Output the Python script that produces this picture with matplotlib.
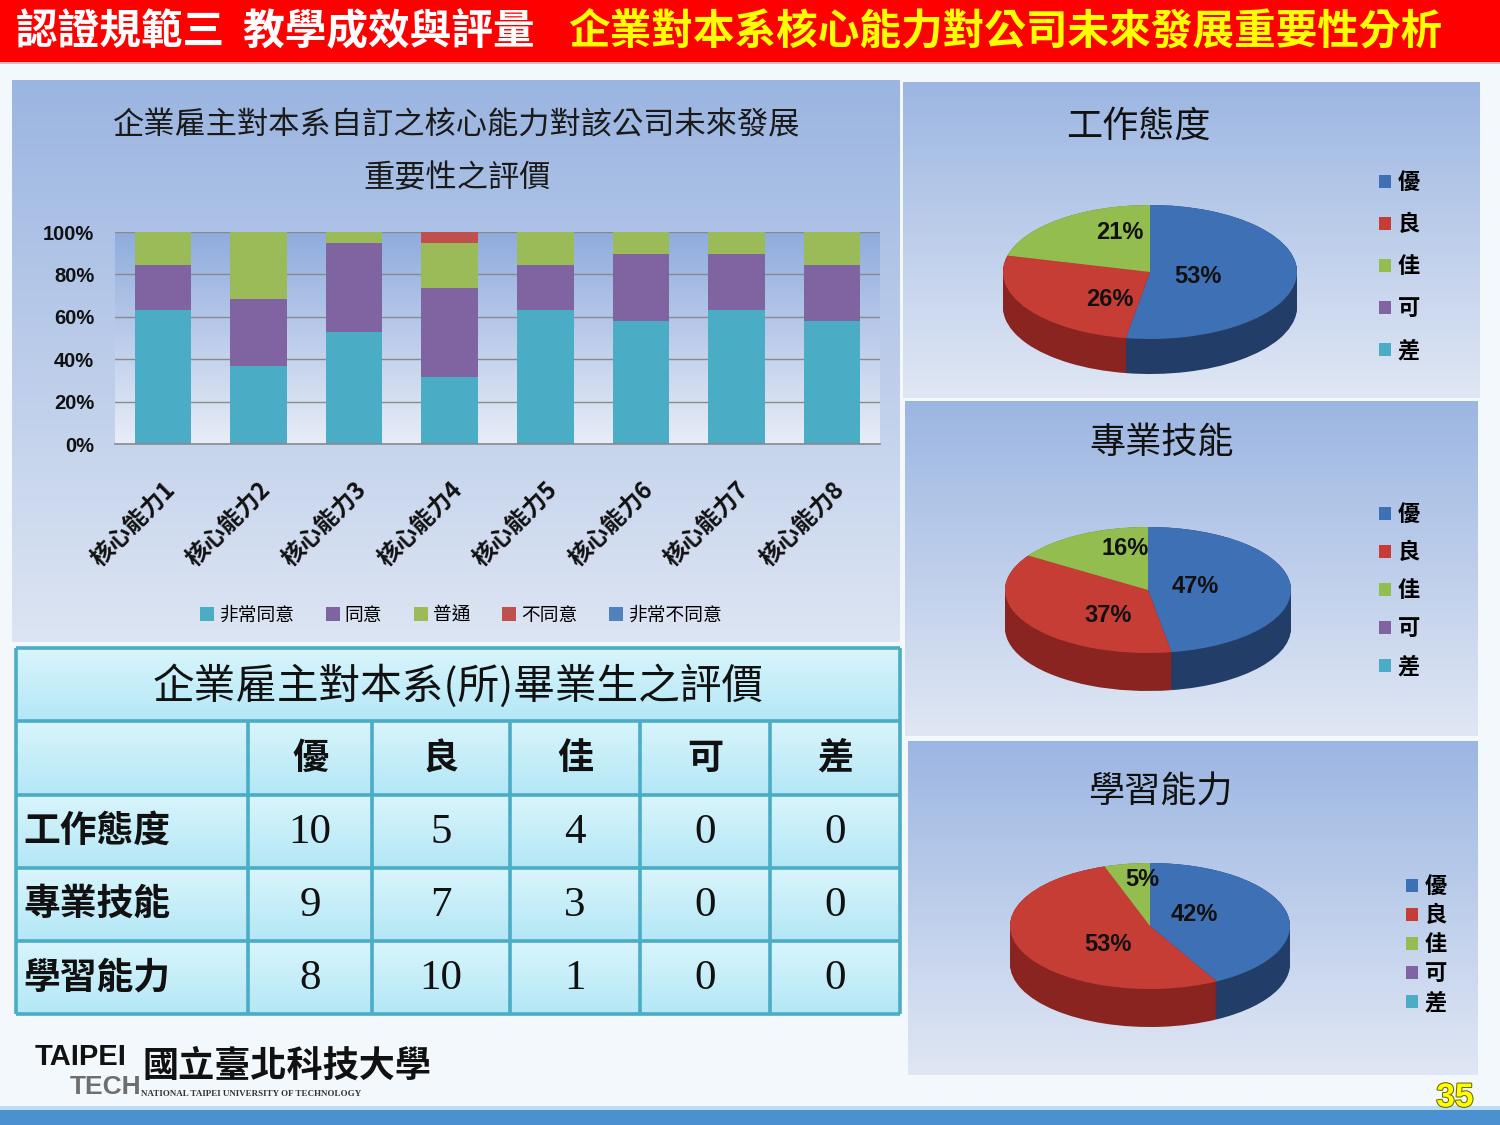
import numpy as np
import matplotlib
matplotlib.use('Agg')
import matplotlib.pyplot as plt
from matplotlib.patches import Rectangle
from matplotlib.colors import LinearSegmentedColormap
import matplotlib.patheffects as pe

plt.rcParams['font.family'] = ['Noto Sans CJK TC', 'DejaVu Sans']

# ---------------- data ----------------
title_white = '認證規範三  教學成效與評量'
title_yellow = '企業對本系核心能力對公司未來發展重要性分析'
bar_title_1 = '企業雇主對本系自訂之核心能力對該公司未來發展'
bar_title_2 = '重要性之評價'
categories = ['核心能力1', '核心能力2', '核心能力3', '核心能力4',
              '核心能力5', '核心能力6', '核心能力7', '核心能力8']
series_names = ['非常同意', '同意', '普通', '不同意', '非常不同意']
very_agree = [63.2, 36.8, 52.6, 31.6, 63.2, 57.9, 63.2, 57.9]
agree = [21.0, 31.6, 42.1, 42.1, 21.0, 31.6, 26.3, 26.3]
neutral = [15.8, 31.6, 5.3, 21.0, 15.8, 10.5, 10.5, 15.8]
disagree = [0, 0, 0, 5.3, 0, 0, 0, 0]
strongly_disagree = [0, 0, 0, 0, 0, 0, 0, 0]
y_ticks = [0, 20, 40, 60, 80, 100]
y_tick_labels = ['0%', '20%', '40%', '60%', '80%', '100%']

rating_labels = ['優', '良', '佳', '可', '差']
aspects = ['工作態度', '專業技能', '學習能力']
work_attitude = [10, 5, 4, 0, 0]
professional_skill = [9, 7, 3, 0, 0]
learning_ability = [8, 10, 1, 0, 0]
table_title = '企業雇主對本系(所)畢業生之評價'

logo_en1 = 'TAIPEI'
logo_en2 = 'TECH'
logo_zh = '國立臺北科技大學'
logo_sub = 'NATIONAL TAIPEI UNIVERSITY OF TECHNOLOGY'
page_no = '35'

# ---------------- styles ----------------
bar_colors = ['#4BACC6', '#8064A2', '#9BBB59', '#C0504D', '#4F81BD']
pie_top = ['#3E70B5', '#C63D36', '#93BD4E', '#8064A2', '#4BACC6']
pie_side = ['#223D68', '#8A2420', '#5D7A2C', '#4F3C66', '#2E6F80']

W, H = 1500, 1125
fig = plt.figure(figsize=(15, 11.25), dpi=100)
fig.patch.set_facecolor('#F2F8FC')


def px_axes(x0, y0, x1, y1, zorder=1):
    ax = fig.add_axes([x0 / W, 1 - y1 / H, (x1 - x0) / W, (y1 - y0) / H])
    ax.set_zorder(zorder)
    return ax


def grad_cmap(top, bottom):
    return LinearSegmentedColormap.from_list('g', [top, bottom])


GRAD = np.linspace(0, 1, 256).reshape(-1, 1)


def gradient_panel(x0, y0, x1, y1, top, bottom, zorder=0):
    ax = px_axes(x0, y0, x1, y1, zorder)
    ax.imshow(GRAD, aspect='auto', cmap=grad_cmap(top, bottom))
    ax.set_axis_off()
    return ax


def fx(x):
    return x / W


def fy(y):
    return 1 - y / H


# ---------------- header bar ----------------
fig.add_artist(Rectangle((0, fy(62)), 1, 62 / H, transform=fig.transFigure,
                         facecolor='#FF0000', edgecolor='none', zorder=1))
fig.add_artist(Rectangle((0, fy(64)), 1, 2 / H, transform=fig.transFigure,
                         facecolor='#E8B8B8', edgecolor='none', zorder=1))
fig.text(fx(16), fy(31), title_white, color='white', fontsize=30,
         fontweight='bold', ha='left', va='center', zorder=5)
fig.text(fx(568), fy(31), title_yellow, color='#FFFF00', fontsize=30,
         fontweight='bold', ha='left', va='center', zorder=5)

# bottom bar
fig.add_artist(Rectangle((0, 0), 1, 15 / H, transform=fig.transFigure,
                         facecolor='#4A91D1', edgecolor='none', zorder=1))
fig.add_artist(Rectangle((0, 15 / H), 1, 4 / H, transform=fig.transFigure,
                         facecolor='#BFDDF2', edgecolor='none', zorder=1))

# ---------------- bar chart panel ----------------
gradient_panel(12, 80, 900, 642, '#9BB5E1', '#DDE5F3', zorder=0)
fig.text(fx(457), fy(125), bar_title_1, fontsize=22.5, color='#1A1A1A',
         ha='center', va='center', zorder=5)
fig.text(fx(457), fy(178), bar_title_2, fontsize=22.5, color='#1A1A1A',
         ha='center', va='center', zorder=5)

ax = px_axes(115, 232, 880, 444, zorder=2)
ax.patch.set_visible(False)
x = np.arange(len(categories))
ax.imshow(GRAD, aspect='auto', cmap=grad_cmap('#8FACDD', '#E8EDF7'),
          extent=(-0.5, len(categories) - 0.5, 0, 100), zorder=0)
bottom = np.zeros(len(categories))
handles = []
for name, vals, col in zip(series_names,
                           [very_agree, agree, neutral, disagree, strongly_disagree],
                           bar_colors):
    vals = np.array(vals, dtype=float)
    b = ax.bar(x, vals, width=0.59, bottom=bottom, color=col, label=name,
               zorder=2, linewidth=0)
    handles.append(b)
    bottom = bottom + vals
ax.set_xlim(-0.5, len(categories) - 0.5)
ax.set_ylim(0, 100)
ax.set_yticks(y_ticks)
ax.set_yticklabels(y_tick_labels, fontfamily=['Liberation Sans'],
                   fontweight='bold', fontsize=14.5, color='#111111')
ax.set_xticks(x)
ax.set_xticklabels(categories, rotation=45, ha='right', va='top',
                   rotation_mode='anchor', fontsize=17, fontweight='bold',
                   color='#111111')
ax.tick_params(axis='both', length=0)
ax.tick_params(axis='y', pad=15)
ax.tick_params(axis='x', pad=24)
ax.yaxis.grid(True, color='#8A8A8A', linewidth=1.0, zorder=1)
ax.set_axisbelow(True)
for s in ['left', 'right', 'top']:
    ax.spines[s].set_visible(False)
ax.spines['bottom'].set_color('#8A8A8A')
ax.spines['bottom'].set_linewidth(1.2)

fig.legend(handles, series_names, loc='center', bbox_to_anchor=(fx(461), fy(615)),
           ncol=5, frameon=False, fontsize=13.5, handlelength=0.75,
           handleheight=0.75, handletextpad=0.25, columnspacing=1.7)

# ---------------- table ----------------
tab = px_axes(14, 646, 902, 1017, zorder=2)
col_edges = [16, 248, 372, 510, 640, 770, 900]
row_edges = [648, 721, 795, 868, 941, 1014]
for r in range(len(row_edges) - 1):
    tab.imshow(GRAD, aspect='auto', cmap=grad_cmap('#D9F5FC', '#B3E7F6'),
               extent=(col_edges[0], col_edges[-1], row_edges[r + 1], row_edges[r]),
               zorder=0)
tab.set_xlim(14, 902)
tab.set_ylim(1017, 646)
tab.set_axis_off()
line_col = '#4BACC6'
tab.hlines(row_edges, col_edges[0], col_edges[-1], color=line_col, lw=2.6, zorder=2)
tab.vlines([col_edges[0], col_edges[-1]], row_edges[0], row_edges[-1],
           color=line_col, lw=2.6, zorder=2)
tab.vlines(col_edges[1:-1], row_edges[1], row_edges[-1], color=line_col,
           lw=2.6, zorder=2)
tab.text((col_edges[0] + col_edges[-1]) / 2, (row_edges[0] + row_edges[1]) / 2 + 2,
         table_title, fontsize=30, ha='center', va='center', color='#111111',
         fontweight='medium', zorder=3)
for j, lab in enumerate(rating_labels):
    cxm = (col_edges[j + 1] + col_edges[j + 2]) / 2
    tab.text(cxm, (row_edges[1] + row_edges[2]) / 2, lab, fontsize=26,
             ha='center', va='center', fontweight='bold', color='#111111', zorder=3)
table_rows = [work_attitude, professional_skill, learning_ability]
for i, (name, vals) in enumerate(zip(aspects, table_rows)):
    cym = (row_edges[i + 2] + row_edges[i + 3]) / 2
    tab.text(col_edges[0] + 7, cym, name, fontsize=26.5, ha='left', va='center',
             fontweight='bold', color='#111111', zorder=3)
    for j, v in enumerate(vals):
        cxm = (col_edges[j + 1] + col_edges[j + 2]) / 2
        tab.text(cxm, cym + 1, str(v), fontsize=31, ha='center', va='center',
                 fontfamily=['Liberation Serif'], color='#111111', zorder=3)

# ---------------- pies ----------------
pie_panels = [(903, 82, 1480, 398), (905, 401, 1478, 736), (908, 741, 1478, 1075)]
pie_geom = [(1150, 272, 147, 67, 35), (1148, 590, 143, 63, 38), (1150, 926, 140, 63, 38)]
pie_title_pos = [(1138, 127), (1162, 443), (1160, 793)]
legend_pos = [(1368, 160, 0.86), (1368, 492, 0.68), (1395, 864, 0.27)]
pie_data = [work_attitude, professional_skill, learning_ability]

for (px0, py0, px1, py1) in pie_panels:
    gradient_panel(px0, py0, px1, py1, '#9CB6E2', '#E0E7F4', zorder=0)

for k, vals in enumerate(pie_data):
    cx, cy, rx, ry, d = pie_geom[k]
    pax = px_axes(cx - rx * 1.1, cy - ry * 1.1, cx + rx * 1.1, cy + ry + d + ry * 0.1,
                  zorder=2)
    depth = d / ry
    for off in np.linspace(depth, 0.0, 30):
        pax.pie(vals, colors=pie_side, startangle=90, counterclock=False,
                center=(0, -off), radius=1.0, wedgeprops=dict(linewidth=0))
    wedges, _ = pax.pie(vals, colors=pie_top, startangle=90, counterclock=False,
                        center=(0, 0), radius=1.0, wedgeprops=dict(linewidth=0))
    pax.set_aspect('auto')
    pax.set_xlim(-1.1, 1.1)
    pax.set_ylim(-(1 + depth) - 0.1, 1.1)
    pax.set_axis_off()
    total = float(sum(vals))
    cum = 0.0
    for v in vals:
        if v > 0:
            mid = np.deg2rad(90 - 360 * (cum + v / 2) / total)
            pax.text(0.33 * np.cos(mid), 0.75 * np.sin(mid), f'{100 * v / total:.0f}%',
                     ha='center', va='center', fontsize=17, fontweight='bold',
                     fontfamily=['Liberation Sans'], color='#111111', zorder=10)
        cum += v
    tx, ty = pie_title_pos[k]
    fig.text(fx(tx), fy(ty), aspects[k], fontsize=26, ha='center', va='center',
             color='#111111', zorder=5)
    lx, ly, lsp = legend_pos[k]
    fig.legend(wedges, rating_labels, loc='upper left', bbox_to_anchor=(fx(lx), fy(ly)),
               frameon=False, handlelength=0.55, handleheight=0.55,
               handletextpad=0.3, labelspacing=lsp, borderpad=0,
               prop=dict(size=16, weight='bold'))

# ---------------- logo & page number ----------------
fig.text(fx(35), fy(1057), logo_en1, fontsize=21, fontweight='bold',
         fontfamily=['Liberation Sans'], color='#111111', ha='left', va='center', zorder=5)
fig.text(fx(70), fy(1087), logo_en2, fontsize=19, fontweight='bold',
         fontfamily=['Liberation Sans'], color='#6E6E6E', ha='left', va='center', zorder=5)
fig.text(fx(142), fy(1066), logo_zh, fontsize=26, fontweight='bold',
         color='#111111', ha='left', va='center', zorder=5)
fig.text(fx(141), fy(1094), logo_sub, fontsize=6.5, fontweight='bold',
         fontfamily=['Liberation Serif'], color='#333333', ha='left', va='center', zorder=5)
fig.text(fx(1455), fy(1098), page_no, fontsize=24, fontweight='bold',
         fontfamily=['Liberation Sans'], color='#FFFF00', ha='center', va='center',
         zorder=5, path_effects=[pe.withStroke(linewidth=1.5, foreground='#6B6B00')])

fig.savefig('out.png', dpi=100, facecolor=fig.get_facecolor())
